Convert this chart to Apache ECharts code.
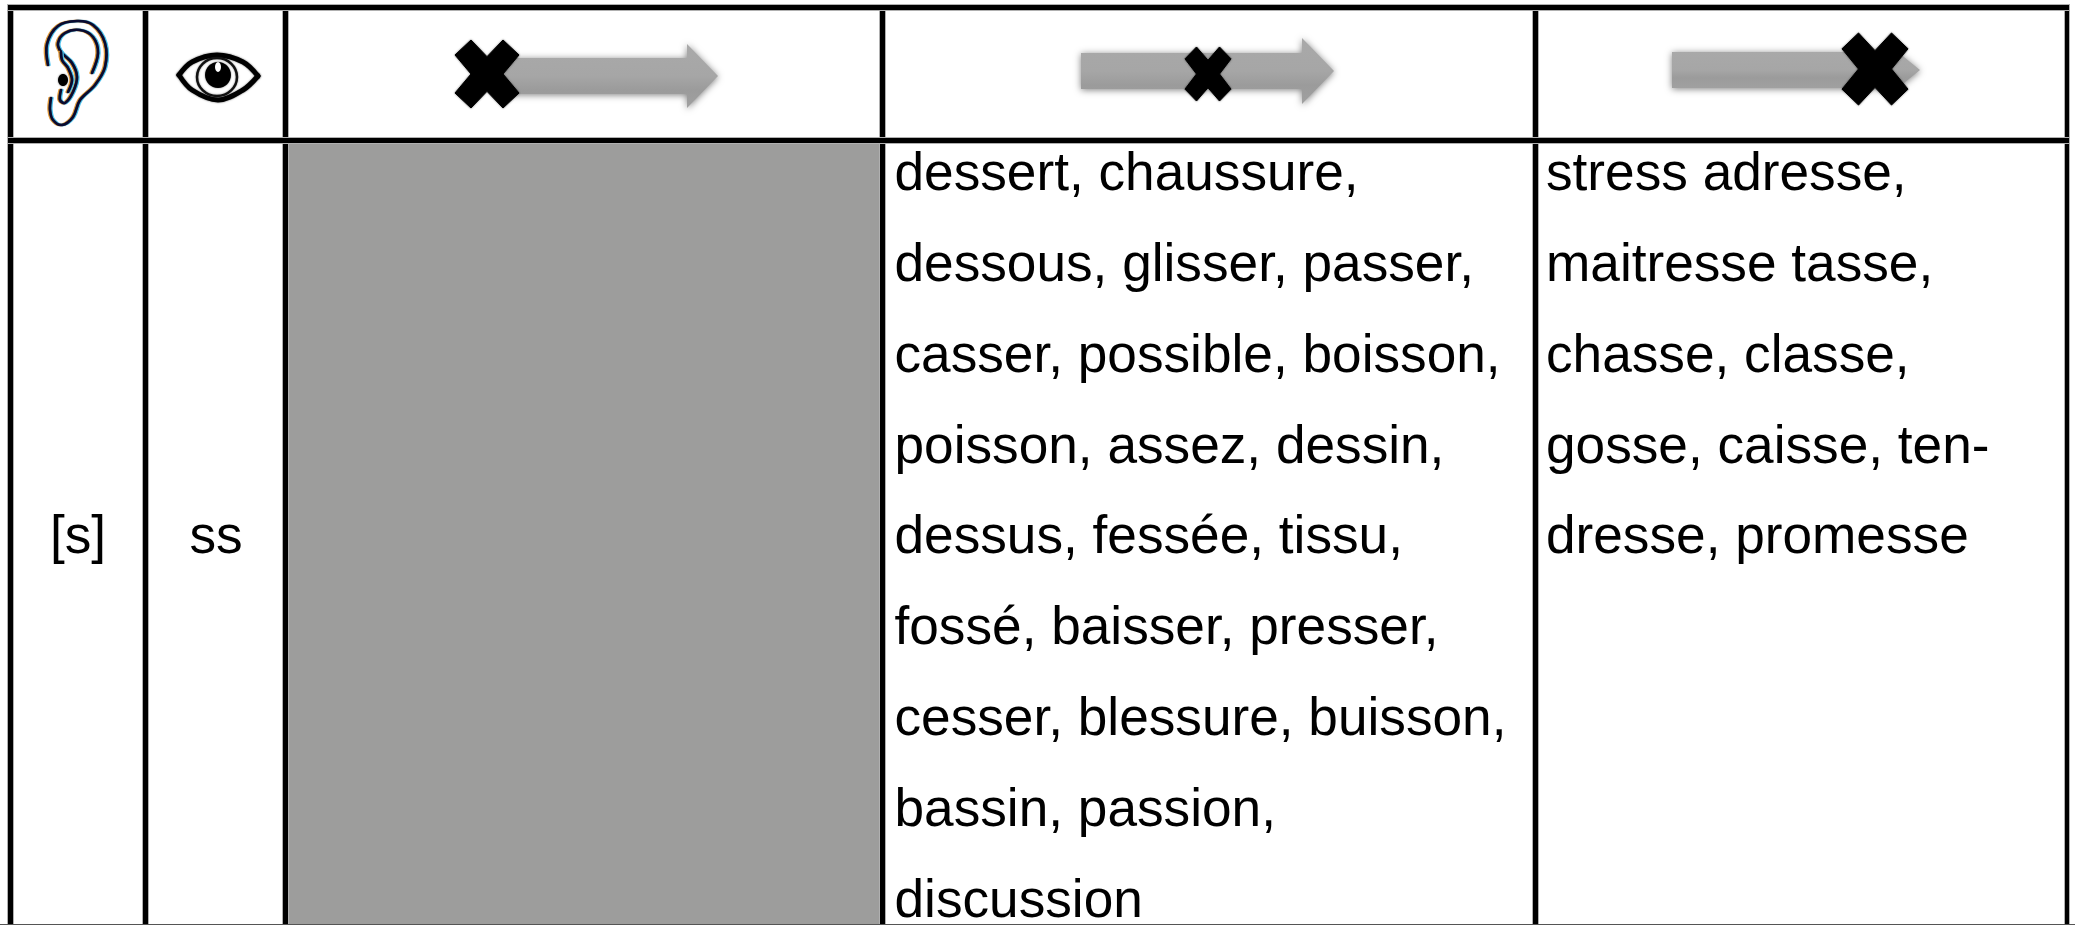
<!DOCTYPE html>
<html>
<head>
<meta charset="utf-8">
<title>ss</title>
<script src="https://cdn.jsdelivr.net/npm/echarts@6/dist/echarts.min.js"></script>
<style>
  html, body { margin: 0; padding: 0; background: #fff; }
  #main { width: 2075px; height: 925px; }
</style>
</head>
<body>
<div id="main"></div>
<script>
var phoneme = '[s]';
var grapheme = 'ss';
var middleWords = [
  'dessert, chaussure,',
  'dessous, glisser, passer,',
  'casser, possible, boisson,',
  'poisson, assez, dessin,',
  'dessus, fessée, tissu,',
  'fossé, baisser, presser,',
  'cesser, blessure, buisson,',
  'bassin, passion,',
  'discussion'
];
var finalWords = [
  'stress adresse,',
  'maitresse tasse,',
  'chasse, classe,',
  'gosse, caisse, ten-',
  'dresse, promesse'
];

var FONT = '53.2px "Liberation Sans"';
var colX = [[8, 13], [143, 148], [283, 288], [880, 885], [1533, 1538], [2065, 2069]];
var rowY = [[5, 10], [138, 143]];
var FIRST_LINE = 149, LINE_STEP = 90.8;
var els = [];

function rect(x, y, w, h, fill) {
  els.push({ type: 'rect', shape: { x: x, y: y, width: w, height: h }, style: { fill: fill }, silent: true });
}
function rule(x, y, w, h) {
  rect(x - 1, y - 1, w + 2, h + 2, '#b0b0b0');
  rect(x, y, w, h, '#000');
}
function label(t, x, y, align) {
  els.push({
    type: 'text', silent: true,
    style: { text: t, x: x, y: y, font: FONT, fill: '#000', align: align || 'left', verticalAlign: 'top' }
  });
}
function curve(pts, color, width, dx, dy, blur) {
  els.push({
    type: 'polyline', silent: true,
    shape: { points: pts.map(function (p) { return [p[0] + (dx || 0), p[1] + (dy || 0)]; }), smooth: 0.35 },
    style: {
      stroke: color, lineWidth: width, fill: null, lineCap: 'round', lineJoin: 'round',
      shadowBlur: blur || 0, shadowColor: 'rgba(0,0,0,0.6)'
    }
  });
}
function dot(x, y, rx, ry, fill, stroke, width) {
  els.push({
    type: 'ellipse', silent: true, shape: { cx: x, cy: y, rx: rx, ry: ry },
    style: { fill: fill, stroke: stroke || null, lineWidth: width || 0, shadowBlur: 2, shadowColor: 'rgba(0,0,0,0.5)' }
  });
}
function arrow(x0, x1, x2, cy, shaftH, headH) {
  els.push({
    type: 'polygon', silent: true,
    shape: { points: [
      [x0, cy - shaftH / 2], [x1, cy - shaftH / 2], [x1, cy - headH / 2], [x2, cy],
      [x1, cy + headH / 2], [x1, cy + shaftH / 2], [x0, cy + shaftH / 2]
    ] },
    style: {
      fill: {
        type: 'linear', x: 0, y: 0, x2: 0, y2: 1,
        colorStops: [
          { offset: 0, color: '#a9a9a9' }, { offset: 0.5, color: '#a6a6a6' },
          { offset: 0.72, color: '#9b9b9b' }, { offset: 1, color: '#a0a0a0' }
        ]
      },
      shadowBlur: 7, shadowColor: 'rgba(0,0,0,0.5)', shadowOffsetY: 1
    }
  });
}
function cross(cx, cy, hw, hh) {
  var n = [[-1, -0.56], [-0.5, -1], [0, -0.51], [0.5, -1], [1, -0.56], [0.5, 0],
           [1, 0.56], [0.5, 1], [0, 0.51], [-0.5, 1], [-1, 0.56], [-0.5, 0]];
  els.push({
    type: 'polygon', silent: true,
    shape: { points: n.map(function (p) { return [cx + p[0] * hw, cy + p[1] * hh]; }) },
    style: { fill: '#000', stroke: '#000', lineWidth: 1, lineJoin: 'round', shadowBlur: 2, shadowColor: 'rgba(0,0,0,0.5)' }
  });
}

function drawEar() {
  var helix = [[48, 65], [47, 44], [58, 26], [77, 21], [93, 25], [105, 43], [105, 67], [95, 85], [80, 100], [73, 117], [62, 125], [53, 120], [50, 110], [51, 98]];
  var inner = [[92, 73], [98, 53], [93, 37], [80, 30], [65, 33], [58, 43], [61, 52], [72, 63], [77, 77], [73, 92], [65, 103], [60, 100], [61, 90]];
  var fold = [[61, 52], [62, 60], [68, 68], [72, 80], [68, 92]];
  [helix, inner, fold].forEach(function (c) {
    curve(c, '#e8a040', 2.4, -1.5, 0);
    curve(c, '#50c8f5', 2.4, 1.5, 0);
    curve(c, '#0a0a30', 2.6, 0, 0, 1);
  });
  dot(63, 80, 5, 6, '#000');
}
function drawEye() {
  var top = [[179, 75], [192, 62], [217, 55], [243, 62], [258, 76]];
  var bot = [[179, 75], [192, 90], [218, 100], [243, 90], [258, 76]];
  curve(top, '#000', 5, 0, 0, 2);
  curve(bot, '#000', 5, 0, 0, 2);
  dot(217, 77, 20, 19, null, '#111', 2.5);
  dot(218, 75, 13, 13, '#000');
  dot(218, 67, 3, 5, '#fff');
}

// body
rect(288, 143, 592, 782, '#9d9d9c');

drawEar();
drawEye();

arrow(500, 687, 718, 76, 36, 64);
cross(487, 74, 32, 34);
arrow(1081, 1302, 1334, 71, 36, 66);
cross(1208, 74, 23, 27);
arrow(1672, 1899, 1920, 70, 36, 34);
cross(1875, 69, 33, 36);

middleWords.forEach(function (t, i) { label(t, 894.5, FIRST_LINE + i * LINE_STEP); });
finalWords.forEach(function (t, i) { label(t, 1546, FIRST_LINE + i * LINE_STEP); });
label(phoneme, 78, FIRST_LINE + 4 * LINE_STEP, 'center');
label(grapheme, 216, FIRST_LINE + 4 * LINE_STEP, 'center');

colX.forEach(function (c) { rule(c[0], rowY[0][0], c[1] - c[0], 925 - rowY[0][0]); });
rowY.forEach(function (r) { rule(colX[0][0], r[0], colX[5][1] - colX[0][0], r[1] - r[0]); });
rect(0, 924, 2075, 1, '#555');

var chart = echarts.init(document.getElementById('main'), null, { renderer: 'canvas' });
chart.setOption({
  backgroundColor: '#fff',
  animation: false,
  graphic: { elements: els }
});
</script>
</body>
</html>
